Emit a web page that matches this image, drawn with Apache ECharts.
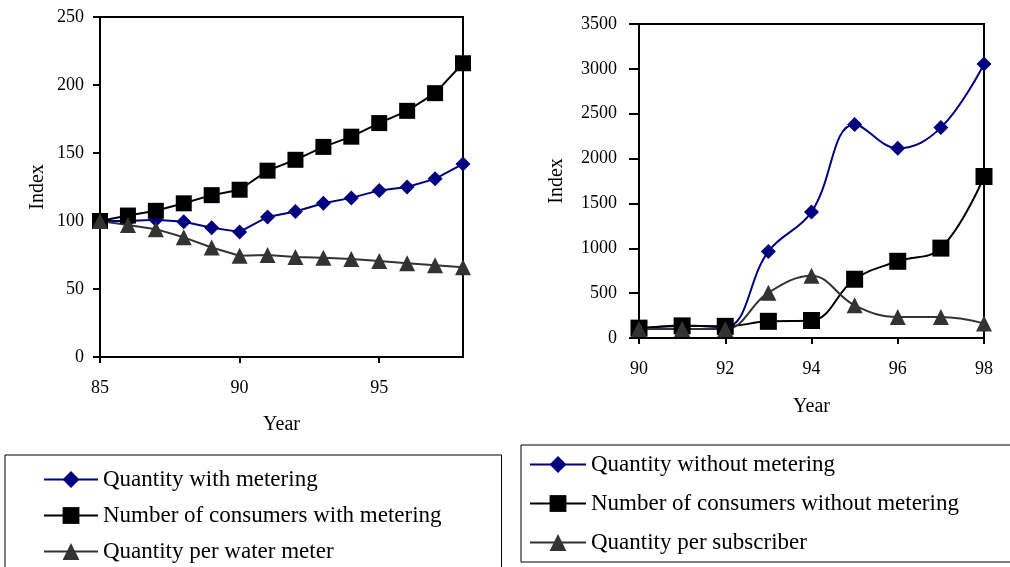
<!DOCTYPE html>
<html>
<head>
<meta charset="utf-8">
<script src="https://cdn.jsdelivr.net/npm/echarts@6/dist/echarts.min.js"></script>
<style>
  html, body { margin: 0; padding: 0; background: #fff; }
  #chart { width: 1010px; height: 567px; }
</style>
</head>
<body>
<div id="chart"></div>
<script>
// Two-digit years for each panel
const yearsMetered = [85, 86, 87, 88, 89, 90, 91, 92, 93, 94, 95, 96, 97, 98];
const yearsUnmetered = [90, 91, 92, 93, 94, 95, 96, 97, 98];

// Index values, households with water meters
const quantityWithMetering = [100, 100, 101, 99.5, 95, 92, 103, 107, 113, 117, 122.5, 125, 131, 142];
const consumersWithMetering = [100, 104, 107.5, 113, 119, 123, 137, 145, 154.5, 162, 172, 181, 194, 216];
const quantityPerWaterMeter = [100, 97, 94, 88, 80.5, 74.5, 75, 73.5, 73, 72, 70.5, 69, 67.5, 66];

// Index values, households without water meters
const quantityWithoutMetering = [100, 140, 120, 965, 1405, 2380, 2115, 2345, 3055];
const consumersWithoutMetering = [110, 135, 130, 186, 195, 655, 855, 1002, 1800];
const quantityPerSubscriber = [100, 100, 100, 505, 694, 364, 234, 234, 163];

const namesLeft = ['Quantity with metering', 'Number of consumers with metering', 'Quantity per water meter'];
const namesRight = ['Quantity without metering', 'Number of consumers without metering', 'Quantity per subscriber'];

const FONT = 'Liberation Serif';
const NAVY = '#000080';
const BLACK = '#000000';
const GREY = '#333333';

function pairs(xs, ys) {
  return xs.map((x, i) => [x, ys[i]]);
}

function lineSeries(name, axisIndex, data, symbol, size, color, smooth) {
  return {
    name: name,
    type: 'line',
    xAxisIndex: axisIndex,
    yAxisIndex: axisIndex,
    data: data,
    symbol: symbol,
    symbolSize: size,
    smooth: smooth,
    lineStyle: { color: color, width: 2 },
    itemStyle: { color: color },
    emphasis: { disabled: true }
  };
}

const axisLabelStyle = { fontFamily: FONT, fontSize: 18, color: '#000', formatter: (v) => String(v) };
const axisNameStyle = { fontFamily: FONT, fontSize: 20, color: '#000' };
const axisLineStyle = { show: true, lineStyle: { color: '#000', width: 2 } };

function xAxis(grid, min, max, step, labelMargin, nameGap) {
  return {
    type: 'value', gridIndex: grid, min: min, max: max, interval: step,
    name: 'Year', nameLocation: 'middle', nameGap: nameGap, nameTextStyle: axisNameStyle,
    axisLine: axisLineStyle,
    axisTick: { show: true, inside: false, length: 6, lineStyle: { color: '#000', width: 2 } },
    axisLabel: Object.assign({ margin: labelMargin, showMaxLabel: max % step === 0 }, axisLabelStyle),
    splitLine: { show: false }
  };
}

function yAxis(grid, max, step, tickLen, labelMargin, nameGap) {
  return {
    type: 'value', gridIndex: grid, min: 0, max: max, interval: step,
    name: 'Index', nameLocation: 'middle', nameRotate: 90, nameGap: nameGap, nameTextStyle: axisNameStyle,
    axisLine: axisLineStyle,
    axisTick: { show: true, inside: false, length: tickLen, lineStyle: { color: '#000', width: 2 } },
    axisLabel: Object.assign({ margin: labelMargin }, axisLabelStyle),
    splitLine: { show: false }
  };
}

function legend(names, left, top, itemWidth, gap, padding) {
  return {
    data: names,
    orient: 'vertical',
    left: left,
    top: top,
    height: 200,
    itemWidth: itemWidth,
    itemHeight: 21,
    itemGap: gap,
    padding: padding,
    borderColor: '#000',
    borderWidth: 1,
    backgroundColor: '#fff',
    selectedMode: false,
    textStyle: { fontFamily: FONT, fontSize: 23, color: '#000' }
  };
}

const chart = echarts.init(document.getElementById('chart'), null, { renderer: 'canvas' });

chart.setOption({
  animation: false,
  backgroundColor: '#fff',
  grid: [
    { left: 100, right: 547, top: 17, bottom: 210, show: true, borderColor: '#000', borderWidth: 2, containLabel: false },
    { left: 639, right: 26, top: 24, bottom: 229, show: true, borderColor: '#000', borderWidth: 2, containLabel: false }
  ],
  xAxis: [
    xAxis(0, 85, 98, 5, 22, 58),
    xAxis(1, 90, 98, 2, 22, 59)
  ],
  yAxis: [
    yAxis(0, 250, 50, 7, 16, 52),
    yAxis(1, 3500, 500, 10, 22, 72)
  ],
  legend: [
    legend(namesLeft, 5, 455, 54, 13, [13, 60, 30, 38]),
    legend(namesRight, 521, 445, 56, 16, [8, 90, 8, 8])
  ],
  series: [
    lineSeries(namesLeft[0], 0, pairs(yearsMetered, quantityWithMetering), 'diamond', 15, NAVY, false),
    lineSeries(namesLeft[1], 0, pairs(yearsMetered, consumersWithMetering), 'rect', 16, BLACK, false),
    lineSeries(namesLeft[2], 0, pairs(yearsMetered, quantityPerWaterMeter), 'triangle', 16, GREY, false),
    lineSeries(namesRight[0], 1, pairs(yearsUnmetered, quantityWithoutMetering), 'diamond', 15, NAVY, 0.4),
    lineSeries(namesRight[1], 1, pairs(yearsUnmetered, consumersWithoutMetering), 'rect', 17, BLACK, 0.4),
    lineSeries(namesRight[2], 1, pairs(yearsUnmetered, quantityPerSubscriber), 'triangle', 16, GREY, 0.4)
  ]
});
</script>
</body>
</html>
